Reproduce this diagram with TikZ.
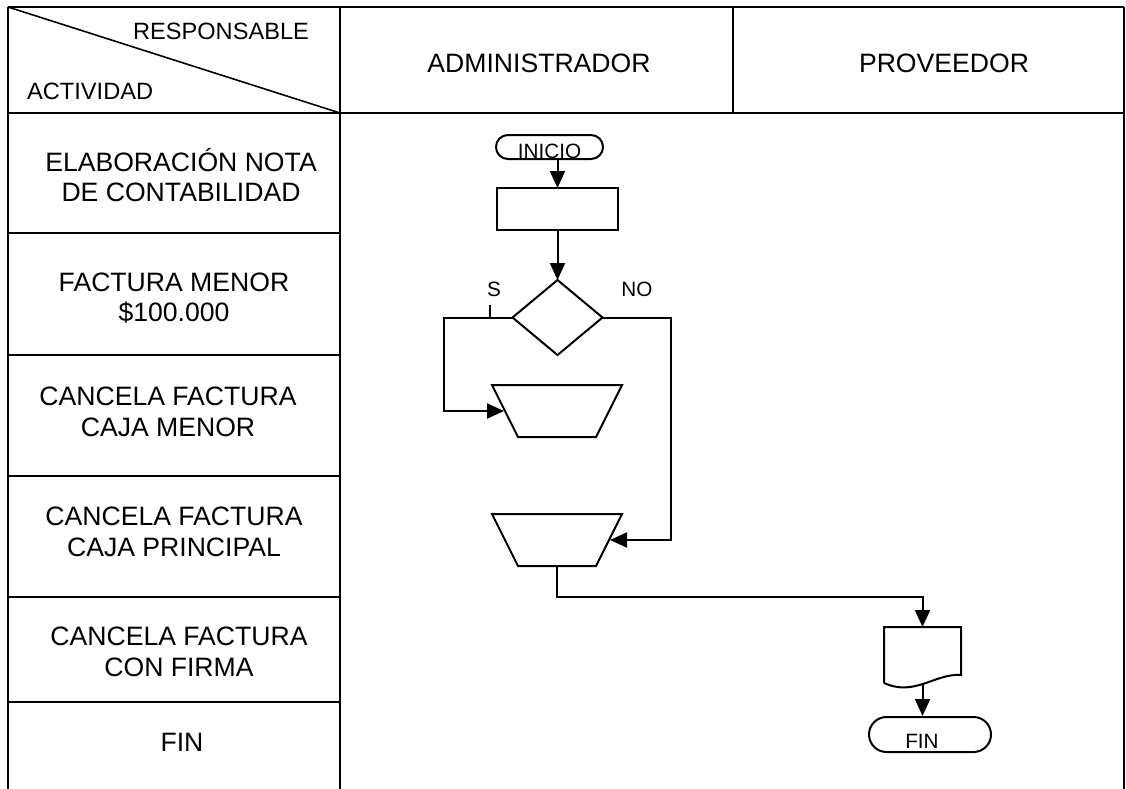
\documentclass[tikz,border=0pt]{standalone}
\usepackage{fontspec}
\setmainfont{Liberation Sans}
\usetikzlibrary{arrows.meta,shapes.geometric}
\begin{document}
\begin{tikzpicture}[x=1pt,y=-1pt,
  tbl/.style={line width=2.4pt, black},
  flow/.style={line width=2pt, black},
  arr/.style={flow, -{Triangle[length=17pt,width=15pt]}},
  big/.style={font=\fontsize{26.6}{30.5}\selectfont, align=center, inner sep=0pt},
  hdr/.style={font=\fontsize{23.6}{28}\selectfont, inner sep=0pt},
  small/.style={font=\fontsize{20.7}{24}\selectfont, inner sep=0pt},
  term/.style={draw, flow, small, inner sep=0pt, text depth=0pt},
  ghost/.style={inner sep=0pt, outer sep=0pt}]
\useasboundingbox (0,0) rectangle (1126,789);
% table
\coordinate (tl) at (8,7);
\coordinate (tr) at (1124,7);
\coordinate (bl) at (8,789);
\coordinate (br) at (1124,789);
\coordinate (c1t) at (340,7);
\coordinate (c1b) at (340,789);
\coordinate (c2t) at (733,7);
\coordinate (c2b) at (733,113);
\coordinate (hl) at (8,113);
\coordinate (hr) at (1124,113);
\draw[tbl] (tl) -- (tr);
\draw[tbl] (tl) -- (bl);
\draw[line width=1.8pt] (tr) -- (br);
\draw[tbl] (c1t) -- (c1b);
\draw[line width=1.8pt] (c2t) -- (c2b);
\draw[tbl] (hl) -- (hr);
\draw[line width=1.6pt] (tl) -- (hl -| c1t);
\foreach \yy/\nm in {233/ra,355/rb,476/rc,597/rd,702/re}{
  \coordinate (\nm l) at (8,\yy);
  \coordinate (\nm r) at (340,\yy);
  \draw[tbl] (\nm l) -- (\nm r);
}
% header texts
\node[hdr] (resp) at (221,31) {RESPONSABLE};
\node[hdr, anchor=west] (act) at (27,91) {ACTIVIDAD};
\node[big] (adm) at (539,63) {ADMINISTRADOR};
\node[big] (prov) at (944,63) {PROVEEDOR};
% activity texts
\node[big] (a1) at (181,175) {ELABORACIÓN NOTA\\DE CONTABILIDAD};
\node[big] (a2) at (174,298) {FACTURA MENOR\\\$100.000};
\node[big] (a3) at (168,412) {CANCELA FACTURA\\CAJA MENOR};
\node[big] (a4) at (174,532) {CANCELA FACTURA\\CAJA PRINCIPAL};
\node[big] (a5) at (179,652) {CANCELA FACTURA\\CON FIRMA};
\node[big] (a6) at (182,742) {FIN};
% flowchart
\node[term, minimum width=107pt, minimum height=24pt, rounded corners=12pt, text height=22pt] (inicio) at (549.5,147) {INICIO};
\node[draw, flow, ghost, minimum width=121pt, minimum height=42pt] (rect) at (557.5,209) {};
\node[diamond, draw, flow, ghost, minimum width=90pt, minimum height=75pt] (dec) at (557.5,317.5) {};
\node[ghost, minimum width=130pt, minimum height=52pt] (t1) at (557,411) {};
\node[ghost, minimum width=130pt, minimum height=52pt] (t2) at (557,540) {};
\draw[flow] (t1.north west) -- (t1.north east) -- ([xshift=-26pt]t1.south east) -- ([xshift=26pt]t1.south west) -- cycle;
\draw[flow] (t2.north west) -- (t2.north east) -- ([xshift=-26pt]t2.south east) -- ([xshift=26pt]t2.south west) -- cycle;
\node[ghost, minimum width=77pt, minimum height=60pt] (doc) at (922.5,657) {};
\draw[flow] ([yshift=4pt]doc.south west) -- (doc.north west) -- (doc.north east) -- ([yshift=12pt]doc.south east)
  .. controls ([xshift=-26pt,yshift=14pt]doc.south east) and ([xshift=-46pt,yshift=-10pt]doc.south east) .. ([yshift=4pt]doc.south west);
\node[term, minimum width=122pt, minimum height=35pt, rounded corners=17.5pt, text height=27pt] (fin) at (930,734.5) {FIN\hspace*{16pt}};
% labels
\node[small] (s) at (494,289) {S};
\node[small] (no) at (637,289) {NO};
\coordinate (tick) at (490,317);
\draw[flow] (tick) -- ++(0,-12);
% connectors
\draw[arr] (inicio.south -| rect.north) -- (rect.north);
\draw[arr] (rect.south) -- (dec.north);
\draw[arr] (dec.west) -- ++(-69,0) |- ([xshift=12pt]t1.west);
\draw[arr] (dec.east) -- ++(68,0) |- ([xshift=-12pt]t2.east);
\draw[arr] (t2.south) -- ++(0,31) -| (doc.north);
\draw[arr] ([yshift=3pt]doc.south) -- (doc.south |- fin.north);
\end{tikzpicture}
\end{document}
